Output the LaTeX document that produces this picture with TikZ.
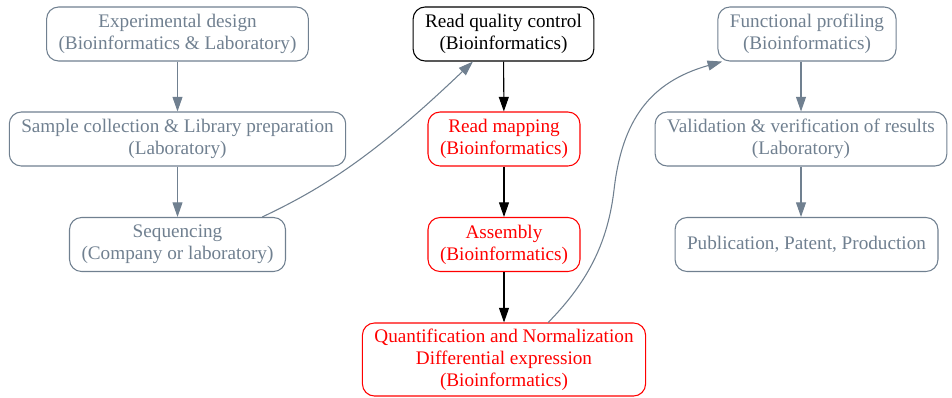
\documentclass[tikz,border=0pt]{standalone}
\usepackage{fontspec}
\setmainfont{Liberation Serif}
\usetikzlibrary{arrows.meta}
\definecolor{slate}{RGB}{112,128,144}

\begin{document}
\begin{tikzpicture}[x=0.75pt,y=-0.75pt,>={Triangle[length=11pt,width=7.5pt]},
    box/.style={draw,rounded corners=9pt,align=center,minimum height=40.5pt,inner xsep=9pt,
        line width=0.8pt,font=\fontsize{14.4}{16.5}\selectfont},
    lab/.style={box,draw=slate,text=slate},
    bio/.style={box,draw=red,text=red},
    lnk/.style={->,line width=0.8pt}]
    \useasboundingbox (0,0) rectangle (952,397);

    % left column
    \node[lab] (design) at (177.5,34) {Experimental design\\(Bioinformatics \& Laboratory)};
    \node[lab] (sample) at (177.5,139) {Sample collection \& Library preparation\\(Laboratory)};
    \node[lab] (seq) at (177.5,244.5) {Sequencing\\(Company or laboratory)};

    % middle column
    \node[box] (qc) at (503.5,34) {Read quality control\\(Bioinformatics)};
    \node[bio] (mapping) at (504,139) {Read mapping\\(Bioinformatics)};
    \node[bio] (assembly) at (504,244.5) {Assembly\\(Bioinformatics)};
    \node[bio,minimum height=54.75pt] (quant) at (504,359.5) {Quantification and Normalization\\Differential expression\\(Bioinformatics)};

    % right column
    \node[lab] (func) at (807,34) {Functional profiling\\(Bioinformatics)};
    \node[lab] (valid) at (801,139) {Validation \& verification of results\\(Laboratory)};
    \node[lab] (pub) at (806.5,244.5) {Publication, Patent, Production};

    \draw[lnk,slate] (design) -- (sample);
    \draw[lnk,slate] (sample) -- (seq);
    \draw[lnk,slate] (seq.18) .. controls (330,185) and (380,150) .. (qc.222);

    \draw[lnk] (qc) -- (mapping);
    \draw[lnk] (mapping) -- (assembly);
    \draw[lnk] (assembly) -- (quant);
    \draw[lnk,slate] (quant.40) .. controls (590,280) and (608,240) .. (614,190)
        .. controls (622,120) and (650,82) .. (func.198);

    \draw[lnk,slate] (func.south -| valid) -- (valid);
    \draw[lnk,slate] (valid) -- (valid |- pub.north);
\end{tikzpicture}
\end{document}
